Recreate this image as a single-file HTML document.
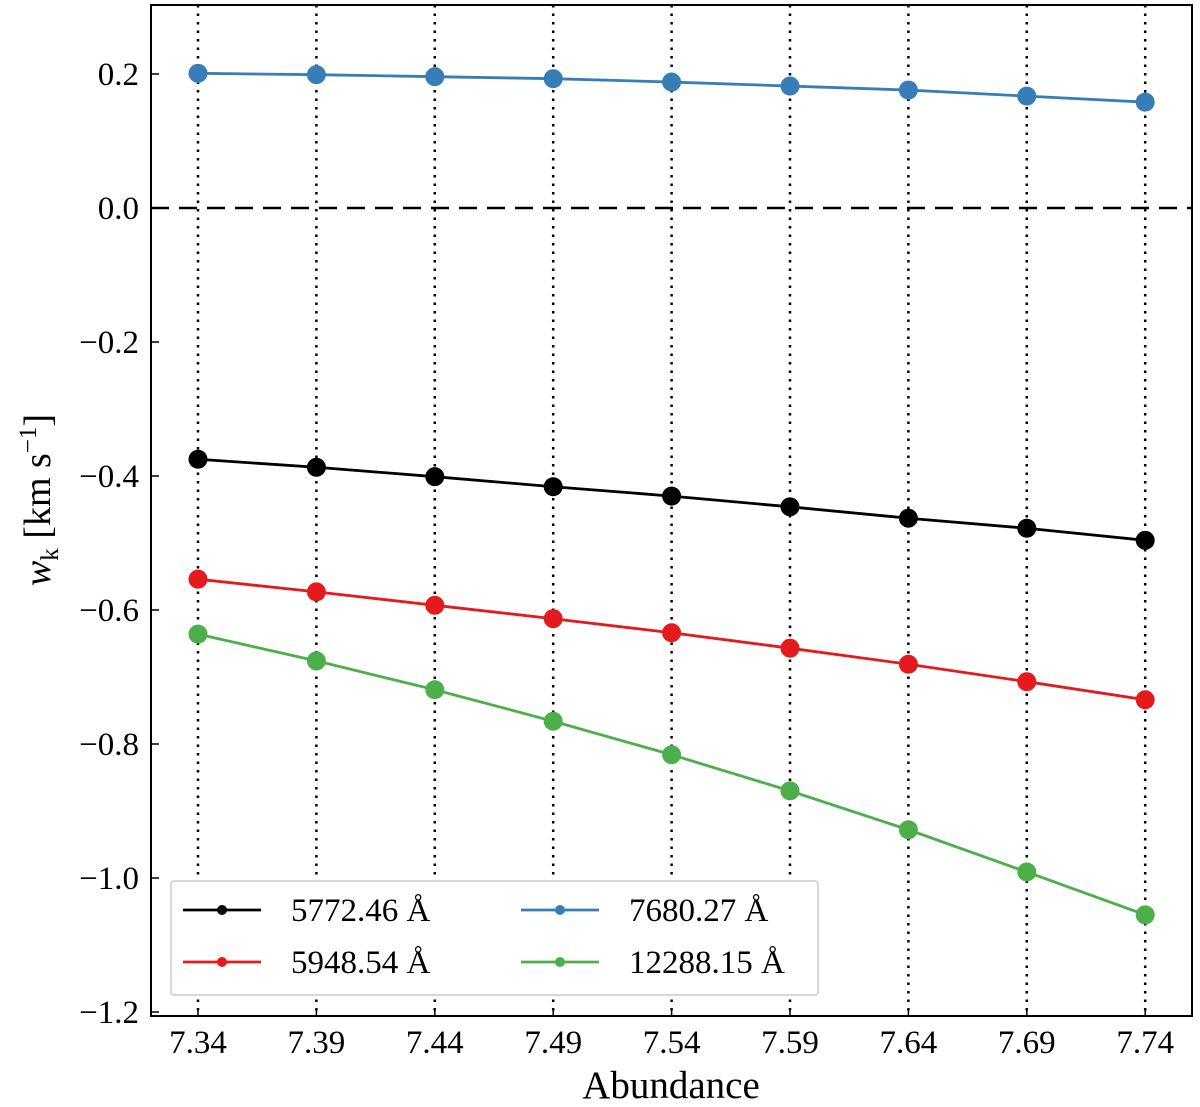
<!DOCTYPE html>
<html><head><meta charset="utf-8"><style>
body{margin:0;background:#fff}
svg{display:block;font-family:"Liberation Serif","DejaVu Serif",serif}
</style></head><body>
<svg id="chart" width="1200" height="1107" viewBox="0 0 1200 1107">
<g id="grid"></g>
<g id="axes"></g>
<g id="series"></g>
<g id="legend"></g>
</svg>
<script>
const categories=[7.34,7.39,7.44,7.49,7.54,7.59,7.64,7.69,7.74];
const seriesNames=["5772.46 Å","5948.54 Å","7680.27 Å","12288.15 Å"];
const seriesColors=["#000000","#e41a1c","#377eb8","#4daf4a"];
const black=[-0.375,-0.387,-0.401,-0.416,-0.430,-0.446,-0.463,-0.478,-0.496];
const red=[-0.554,-0.573,-0.593,-0.613,-0.634,-0.657,-0.681,-0.707,-0.734];
const blue=[0.201,0.199,0.196,0.193,0.188,0.182,0.176,0.167,0.158];
const green=[-0.636,-0.676,-0.719,-0.766,-0.816,-0.870,-0.928,-0.991,-1.055];
const yTicks=[0.2,0.0,-0.2,-0.4,-0.6,-0.8,-1.0,-1.2];
const yTickLabels=["0.2","0.0","\u22120.2","\u22120.4","\u22120.6","\u22120.8","\u22121.0","\u22121.2"];
const L=151,R=1192,T=5,B=1016;
const xs=v=>198+(v-7.34)/0.05*118.4;
const ys=v=>208-v*670;
const NS="http://www.w3.org/2000/svg";
function mk(tag,attrs,parent){const e=document.createElementNS(NS,tag);for(const k in attrs)e.setAttribute(k,attrs[k]);parent.appendChild(e);return e;}
const grid=document.getElementById('grid'),axes=document.getElementById('axes'),ser=document.getElementById('series'),leg=document.getElementById('legend');
categories.forEach(c=>{const l=mk('line',{x1:xs(c),x2:xs(c),y1:T,y2:B,stroke:'#000','stroke-width':2.5,'stroke-dasharray':'2.5 6'},grid);

});
const z=mk('line',{x1:L,x2:R,y1:ys(0),y2:ys(0),stroke:'#000','stroke-width':2.5,'stroke-dasharray':'18 10'},grid);


const data=[black,red,blue,green];
data.forEach((arr,i)=>{const g=mk('g',{},ser);


mk('polyline',{points:arr.map((v,j)=>xs(categories[j])+','+ys(v)).join(' '),fill:'none',stroke:seriesColors[i],'stroke-width':2.8},g);
arr.forEach((v,j)=>{const c=mk('circle',{cx:xs(categories[j]),cy:ys(v),r:9.5,fill:seriesColors[i]},g);

});});
mk('rect',{x:L,y:T,width:R-L,height:B-T,fill:'none',stroke:'#000','stroke-width':2},axes);
categories.forEach(c=>{mk('line',{x1:xs(c),x2:xs(c),y1:B,y2:B-8,stroke:'#000','stroke-width':1.5},axes);
const t=mk('text',{x:xs(c),y:B+37,'text-anchor':'middle','font-size':33},axes);t.textContent=c.toFixed(2);

});
yTicks.forEach((v,i)=>{mk('line',{x1:L,x2:L+8,y1:ys(v),y2:ys(v),stroke:'#000','stroke-width':1.5},axes);
const t=mk('text',{x:L-12,y:ys(v)+11,'text-anchor':'end','font-size':33},axes);t.textContent=yTickLabels[i];

});
const xt=mk('text',{x:671,y:1098,'text-anchor':'middle','font-size':39},axes);xt.textContent='Abundance';


const yt=mk('text',{transform:'translate(50,500) rotate(-90)','text-anchor':'middle','font-size':38},axes);
yt.innerHTML='<tspan font-style="italic">w</tspan><tspan font-size="25" dy="8">k</tspan><tspan dy="-8"> [km s</tspan><tspan font-size="25" dy="-14">\u22121</tspan><tspan dy="14">]</tspan>';


mk('rect',{x:171,y:881,width:647,height:114,fill:'#fff',stroke:'#ccc','stroke-width':1.5,rx:3},leg);
const pos=[[183,910],[183,962],[521,910],[521,962]];
seriesNames.forEach((n,i)=>{const g=mk('g',{},leg);


const [x,y]=pos[i];
mk('line',{x1:x,x2:x+78,y1:y,y2:y,stroke:seriesColors[i],'stroke-width':2.8},g);
mk('circle',{cx:x+39,cy:y,r:5,fill:seriesColors[i]},g);
const t=mk('text',{x:x+108,y:y+11,'font-size':33},g);t.textContent=n;});
</script>
</body></html>
